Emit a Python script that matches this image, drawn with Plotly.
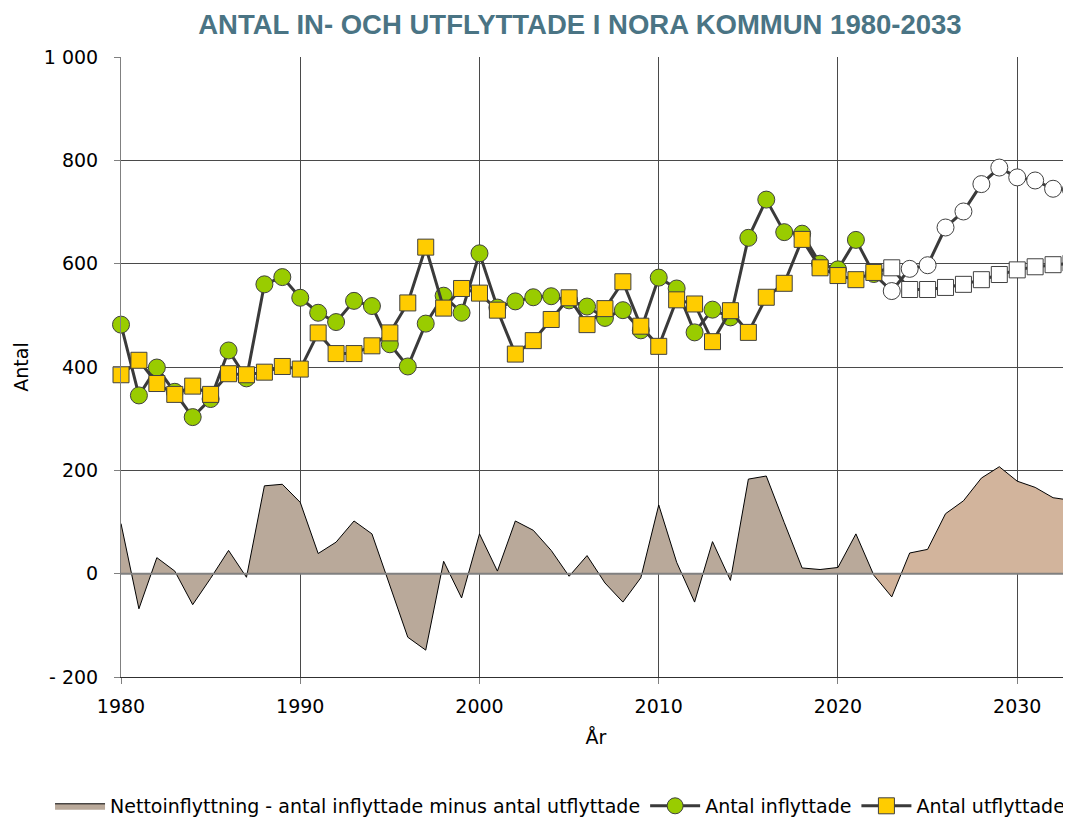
import plotly.graph_objects as go

years = list(range(1980, 2034))

inflyttade = [482, 345, 399, 352, 303, 338, 432, 378, 560, 574,
              534, 505, 487, 528, 518, 444, 401, 484, 538, 505,
              620, 515, 527, 535, 537, 529, 517, 495, 510, 471,
              573, 552, 467, 511, 496, 650, 724, 661, 658, 600,
              589, 646, 580, 547, 590, 597, 670, 701, 754, 786,
              767, 761, 745, 743]

utflyttade = [385, 413, 368, 347, 363, 347, 387, 385, 390, 401,
              396, 466, 426, 426, 441, 466, 524, 632, 514, 552,
              543, 510, 425, 451, 492, 534, 482, 513, 565, 479,
              440, 530, 522, 449, 509, 467, 535, 562, 647, 592,
              577, 569, 583, 592, 550, 550, 554, 560, 569, 579,
              588, 594, 598, 601]

netto = [97, -68, 31, 5, -60, -9, 45, -7, 170, 173,
         138, 39, 61, 102, 77, -22, -123, -148, 24, -47,
         77, 5, 102, 84, 45, -5, 35, -18, -55, -8,
         133, 22, -55, 62, -13, 183, 189, 99, 11, 8,
         12, 77, -3, -45, 40, 47, 116, 141, 185, 207,
         179, 167, 147, 142]

prognos_start = 2023  # first forecast year (open markers)
y_ticks = [-200, 0, 200, 400, 600, 800, 1000]
y_tick_labels = ["- 200", "0", "200", "400", "600", "800", "1 000"]
x_ticks = [1980, 1990, 2000, 2010, 2020, 2030]

FONT = "DejaVu Sans, Verdana, sans-serif"
TITLE_FONT = "Liberation Sans, Arial, sans-serif"
LINE_C = "#3a3a3a"
EDGE_C = "#404040"

hist_idx = [i for i, y in enumerate(years) if y <= prognos_start - 1]
fc_idx = [i for i, y in enumerate(years) if y >= prognos_start - 1]

fig = go.Figure()

# Net migration area - history
fig.add_trace(go.Scatter(
    x=[years[i] for i in hist_idx], y=[netto[i] for i in hist_idx],
    mode="lines", fill="tozeroy", fillcolor="#B9A99A",
    line=dict(color="#000000", width=1),
    name="Nettoinflyttning - antal inflyttade minus antal utflyttade",
    hoverinfo="x+y"))
# Net migration area - forecast
fig.add_trace(go.Scatter(
    x=[years[i] for i in fc_idx], y=[netto[i] for i in fc_idx],
    mode="lines", fill="tozeroy", fillcolor="#D2B49C",
    line=dict(color="#000000", width=1),
    showlegend=False, hoverinfo="x+y"))

green = ["#99CC00" if y < prognos_start else "#FFFFFF" for y in years]
yellow = ["#FFCC00" if y < prognos_start else "#FFFFFF" for y in years]

fig.add_trace(go.Scatter(
    x=years, y=inflyttade, mode="lines+markers", name="Antal inflyttade",
    line=dict(color=LINE_C, width=3), cliponaxis=False,
    marker=dict(symbol="circle", size=17, color=green,
                line=dict(color=EDGE_C, width=1))))
fig.add_trace(go.Scatter(
    x=years, y=utflyttade, mode="lines+markers", name="Antal utflyttade",
    line=dict(color=LINE_C, width=3), cliponaxis=False,
    marker=dict(symbol="square", size=16, color=yellow,
                line=dict(color=EDGE_C, width=1))))

# zero reference line drawn over the area
fig.add_shape(type="line", xref="paper", x0=0, x1=1, yref="y", y0=0, y1=0,
              line=dict(color="#808080", width=2), layer="above")

fig.update_layout(
    width=1063, height=810,
    margin=dict(l=113, r=0, t=49, b=141, autoexpand=False),
    paper_bgcolor="white", plot_bgcolor="white",
    font=dict(family=FONT, size=19, color="black"),
    title=dict(text="<b>ANTAL IN- OCH UTFLYTTADE I NORA KOMMUN 1980-2033</b>",
               x=0.538, xanchor="center", y=0.980, yanchor="middle",
               font=dict(family=TITLE_FONT, size=27.5, color="#4A7484")),
    showlegend=True,
    legend=dict(orientation="h", x=-0.0747, xanchor="left",
                y=-0.208, yanchor="middle",
                font=dict(family=FONT, size=19, color="black"),
                traceorder="normal", itemwidth=50),
    xaxis=dict(range=[1980, 2033], tickvals=x_ticks, ticktext=[str(t) for t in x_ticks],
               showgrid=True, gridcolor="#4a4a4a", gridwidth=1,
               showline=True, linecolor="#303030", linewidth=1,
               ticks="outside", ticklen=6, tickcolor="#808080",
               ticklabelstandoff=6, automargin=False,
               zeroline=False,
               title=dict(text="År", standoff=14, font=dict(size=19)),
               tickfont=dict(size=19)),
    yaxis=dict(range=[-200, 1000], tickvals=y_ticks, ticktext=y_tick_labels,
               showgrid=True, gridcolor="#4a4a4a", gridwidth=1,
               showline=True, linecolor="#808080", linewidth=1,
               ticks="outside", ticklen=6, tickcolor="#808080",
               ticklabelstandoff=12, automargin=False,
               zeroline=False,
               title=dict(text="Antal", standoff=10, font=dict(size=19)),
               tickfont=dict(size=19)),
)

fig.write_html(
    "out.html",
    post_script="document.documentElement.style.overflow='hidden';"
                "document.body.style.overflow='hidden';")
